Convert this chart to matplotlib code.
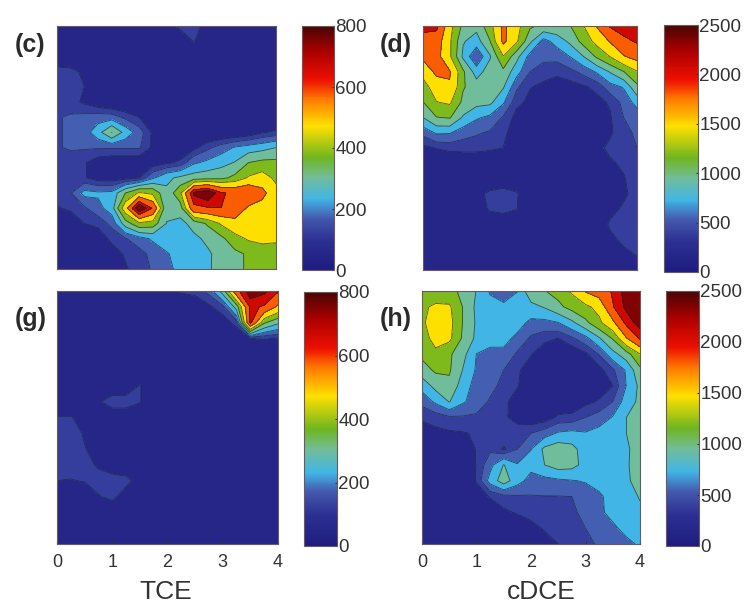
import matplotlib
matplotlib.use('Agg')
import matplotlib.pyplot as plt
import numpy as np
from matplotlib.cm import ScalarMappable
from matplotlib.colors import LinearSegmentedColormap, Normalize

plt.rcParams['font.family'] = ['Liberation Sans', 'DejaVu Sans']

W, H = 749, 605

# values, rows run from the top of each panel to the bottom
grid_c = [
    [40, 40, 40, 40, 40, 40, 40, 40, 60, 120, 130, 70, 40, 40, 40, 40, 40],
    [35, 35, 35, 35, 35, 35, 35, 35, 35, 35, 105, 35, 35, 35, 35, 35, 35],
    [35, 35, 35, 35, 35, 35, 35, 35, 35, 35, 35, 35, 35, 35, 35, 35, 35],
    [130, 120, 85, 45, 35, 35, 35, 35, 35, 35, 35, 35, 35, 35, 35, 35, 35],
    [140, 130, 100, 60, 35, 35, 35, 35, 35, 35, 35, 35, 35, 35, 35, 35, 35],
    [140, 120, 90, 60, 40, 40, 40, 40, 40, 40, 40, 40, 40, 40, 40, 40, 40],
    [140, 150, 160, 170, 170, 130, 100, 70, 40, 40, 40, 40, 40, 40, 40, 40, 40],
    [140, 150, 170, 240, 340, 240, 170, 90, 50, 40, 40, 40, 40, 45, 60, 95, 110],
    [140, 150, 150, 150, 150, 150, 150, 90, 60, 60, 85, 130, 170, 205, 225, 240, 265],
    [130, 120, 105, 70, 60, 60, 60, 70, 90, 110, 190, 215, 240, 270, 340, 360, 360],
    [130, 120, 105, 75, 70, 80, 100, 190, 250, 280, 300, 310, 320, 360, 430, 460, 400],
    [120, 140, 220, 210, 215, 340, 430, 400, 280, 400, 720, 780, 640, 610, 630, 550, 450],
    [95, 110, 135, 180, 230, 480, 790, 620, 270, 300, 600, 620, 630, 600, 500, 480, 480],
    [50, 60, 100, 110, 160, 300, 400, 380, 265, 245, 290, 350, 430, 480, 480, 480, 480],
    [40, 40, 50, 75, 110, 140, 175, 210, 230, 240, 250, 280, 320, 390, 430, 440, 430],
    [40, 40, 40, 50, 80, 105, 125, 160, 195, 220, 240, 255, 290, 320, 350, 380, 390],
    [40, 40, 40, 50, 70, 95, 120, 150, 185, 215, 240, 260, 280, 320, 350, 380, 390],
]

grid_d = [
    [2100, 2050, 1400, 1000, 900, 1200, 1700, 1400, 1100, 1000, 1000, 1050, 1300, 1650, 2000, 2100, 2200],
    [1800, 1800, 1350, 850, 730, 1050, 1700, 1350, 880, 550, 700, 880, 1150, 1400, 1650, 1900, 2000],
    [1700, 1750, 1350, 780, 450, 800, 1300, 900, 550, 500, 510, 630, 830, 1100, 1320, 1600, 1750],
    [1400, 1700, 1650, 1100, 720, 950, 1000, 700, 450, 370, 340, 400, 500, 650, 850, 1050, 1290],
    [1200, 1450, 1600, 1080, 950, 950, 850, 480, 320, 280, 250, 250, 290, 350, 550, 640, 1000],
    [1050, 1300, 1350, 1000, 900, 880, 650, 350, 280, 240, 220, 220, 230, 270, 330, 500, 700],
    [830, 1050, 1080, 800, 650, 580, 430, 260, 200, 200, 200, 200, 200, 220, 300, 450, 500],
    [500, 650, 640, 520, 470, 430, 340, 250, 200, 200, 200, 200, 200, 220, 290, 400, 480],
    [270, 320, 350, 360, 360, 340, 310, 200, 200, 200, 200, 200, 200, 270, 350, 420, 450],
    [180, 180, 180, 180, 180, 180, 180, 180, 180, 180, 180, 180, 180, 200, 290, 340, 400],
    [160, 160, 160, 160, 160, 160, 160, 160, 160, 160, 160, 160, 160, 170, 240, 300, 400],
    [150, 150, 150, 150, 260, 350, 400, 330, 180, 150, 150, 150, 150, 150, 200, 280, 380],
    [150, 150, 150, 150, 200, 340, 380, 320, 150, 150, 150, 150, 150, 170, 260, 340, 380],
    [150, 150, 150, 150, 150, 150, 150, 150, 150, 150, 150, 150, 150, 200, 340, 370, 380],
    [150, 150, 150, 150, 150, 150, 150, 150, 150, 150, 150, 150, 150, 170, 270, 350, 370],
    [150, 150, 150, 150, 150, 150, 150, 150, 150, 150, 150, 150, 150, 150, 200, 270, 320],
    [150, 150, 150, 150, 150, 150, 150, 150, 150, 150, 150, 150, 150, 150, 150, 150, 200],
]

grid_g = [
    [40, 40, 40, 40, 40, 40, 40, 40, 90, 110, 120, 160, 300, 600, 750, 720, 640],
    [40, 40, 40, 40, 40, 40, 40, 40, 40, 40, 50, 90, 130, 300, 650, 620, 500],
    [40, 40, 40, 40, 40, 40, 40, 40, 40, 40, 40, 40, 70, 120, 650, 350, 280],
    [40, 40, 40, 40, 40, 40, 40, 40, 40, 40, 40, 40, 40, 50, 100, 105, 95],
    [40, 40, 40, 40, 40, 40, 40, 40, 40, 40, 40, 40, 40, 40, 40, 40, 40],
    [40, 40, 40, 40, 40, 40, 40, 40, 40, 40, 40, 40, 40, 40, 40, 40, 40],
    [40, 40, 40, 40, 40, 40, 105, 40, 40, 40, 40, 40, 40, 40, 40, 40, 40],
    [40, 40, 40, 90, 140, 140, 105, 40, 40, 40, 40, 40, 40, 40, 40, 40, 40],
    [105, 105, 70, 40, 40, 40, 40, 40, 40, 40, 40, 40, 40, 40, 40, 40, 40],
    [140, 140, 90, 60, 40, 40, 40, 40, 40, 40, 40, 40, 40, 40, 40, 40, 40],
    [140, 140, 105, 60, 40, 40, 40, 40, 40, 40, 40, 40, 40, 40, 40, 40, 40],
    [140, 140, 125, 90, 60, 40, 40, 40, 40, 40, 40, 40, 40, 40, 40, 40, 40],
    [100, 95, 105, 130, 130, 125, 60, 40, 40, 40, 40, 40, 40, 40, 40, 40, 40],
    [40, 40, 40, 95, 120, 60, 40, 40, 40, 40, 40, 40, 40, 40, 40, 40, 40],
    [40, 40, 40, 40, 40, 40, 40, 40, 40, 40, 40, 40, 40, 40, 40, 40, 40],
    [40, 40, 40, 40, 40, 40, 40, 40, 40, 40, 40, 40, 40, 40, 40, 40, 40],
    [40, 40, 40, 40, 40, 40, 40, 40, 40, 40, 40, 40, 40, 40, 40, 40, 40],
]

grid_h = [
    [1100, 1200, 1100, 1030, 820, 600, 560, 620, 1000, 1050, 1150, 1350, 1650, 1800, 2000, 2300, 2400],
    [1280, 1340, 1350, 1050, 780, 700, 650, 700, 760, 850, 1000, 1150, 1250, 1400, 1950, 2250, 2350],
    [1250, 1500, 1400, 1050, 800, 720, 720, 700, 580, 570, 620, 780, 1000, 1250, 1550, 2050, 2300],
    [1200, 1400, 1370, 1020, 780, 720, 680, 580, 420, 350, 310, 420, 560, 800, 1080, 1600, 2000],
    [1120, 1250, 1100, 900, 620, 550, 580, 420, 320, 220, 180, 190, 280, 460, 750, 950, 1300],
    [950, 1100, 1090, 820, 600, 520, 450, 330, 250, 180, 170, 170, 200, 260, 420, 650, 1000],
    [700, 900, 1000, 720, 550, 500, 400, 320, 240, 200, 180, 180, 190, 230, 310, 630, 880],
    [500, 660, 840, 650, 540, 430, 340, 260, 200, 190, 200, 210, 270, 330, 450, 720, 880],
    [330, 360, 420, 430, 420, 400, 340, 250, 200, 230, 340, 350, 450, 520, 640, 830, 950],
    [250, 280, 290, 300, 330, 400, 410, 400, 450, 530, 650, 680, 640, 700, 700, 830, 950],
    [150, 170, 200, 240, 320, 420, 290, 450, 620, 880, 960, 900, 720, 700, 720, 790, 950],
    [120, 130, 150, 170, 320, 560, 840, 640, 690, 830, 930, 900, 760, 720, 700, 800, 950],
    [100, 110, 120, 150, 330, 700, 940, 700, 550, 560, 590, 615, 640, 680, 720, 780, 950],
    [60, 70, 80, 100, 190, 330, 400, 430, 440, 445, 445, 450, 530, 600, 680, 720, 850],
    [60, 60, 60, 80, 100, 170, 280, 330, 370, 390, 410, 430, 480, 590, 680, 720, 780],
    [50, 50, 50, 50, 50, 80, 120, 180, 260, 330, 380, 420, 450, 510, 590, 680, 740],
    [50, 50, 50, 50, 50, 60, 80, 110, 160, 240, 312, 370, 410, 470, 520, 580, 650],
]

panel_labels = ['(c)', '(d)', '(g)', '(h)']
panel_max = [800, 2500, 800, 2500]
cbar_ticks = [[0, 200, 400, 600, 800], [0, 500, 1000, 1500, 2000, 2500]]
x_ticks = [0, 1, 2, 3, 4]
x_names = ['TCE', 'cDCE']

# band edges as a share of the colour range
level_frac = [0, .125, .18, .25, .332, .424, .524, .65, .788, .876, 1]

cmap_pos = [0, .12, .21, .29, .38, .46, .59, .70, .78, .90, 1]
cmap_col = ['#1f1c80', '#2c2f92', '#4458ad', '#41b5e6', '#72bd98', '#6fb521',
            '#ffe000', '#ff7a00', '#ee1000', '#a80000', '#4a0505']
jetish = LinearSegmentedColormap.from_list('jetish', list(zip(cmap_pos, cmap_col)))

# pixel boxes: left, top, right, bottom
boxes = [(57, 26, 276, 269), (423, 26, 637, 270), (57, 291, 278, 544), (422, 291, 640, 544)]
cboxes = [(302, 26, 334, 270), (664, 25, 698, 272), (304, 292, 337, 546), (666, 291, 699, 546)]
label_xy = [(15, 45), (380, 45), (15, 319), (380, 319)]
name_xy = [(166, 592), (541, 592)]
grids = [grid_c, grid_d, grid_g, grid_h]


def add_box(fig, box):
    l, t, r, b = box
    return fig.add_axes([l / W, 1 - b / H, (r - l) / W, (b - t) / H])


fig = plt.figure(figsize=(W / 100, H / 100), dpi=100)

for i in range(4):
    z = np.array(grids[i], dtype=float)
    vmax = panel_max[i]
    levels = np.array(level_frac) * vmax
    norm = Normalize(0, vmax)
    x = np.linspace(0, 4, z.shape[1])
    y = np.linspace(1, 0, z.shape[0])

    ax = add_box(fig, boxes[i])
    ax.contourf(x, y, z, levels=levels, cmap=jetish, norm=norm)
    ax.contour(x, y, z, levels=levels[1:-1], colors='#14283a', linewidths=0.6, alpha=0.75)
    ax.set_yticks([])
    if i >= 2:
        ax.set_xticks(x_ticks)
        ax.tick_params(axis='x', direction='in', length=2, pad=7, labelsize=13,
                       colors='#333333')
        fig.text(name_xy[i - 2][0] / W, 1 - name_xy[i - 2][1] / H, x_names[i - 2], fontsize=19,
                 color='#333333', ha='center', va='center')
    else:
        ax.set_xticks([])
    for s in ax.spines.values():
        s.set_color('#6b5a5a')
        s.set_linewidth(0.8)

    cax = add_box(fig, cboxes[i])
    cb = fig.colorbar(ScalarMappable(norm=norm, cmap=jetish), cax=cax)
    cb.set_ticks(cbar_ticks[i % 2])
    cax.tick_params(direction='in', length=1.5, pad=1, labelsize=13.5, colors='#333333')
    cb.outline.set_edgecolor('#6b5a5a')
    cb.outline.set_linewidth(0.8)

    fig.text(label_xy[i][0] / W, 1 - label_xy[i][1] / H, panel_labels[i], fontsize=18,
             fontweight='bold', color='#2a2a2a', va='center', ha='left')

fig.savefig('out.png', dpi=100)
